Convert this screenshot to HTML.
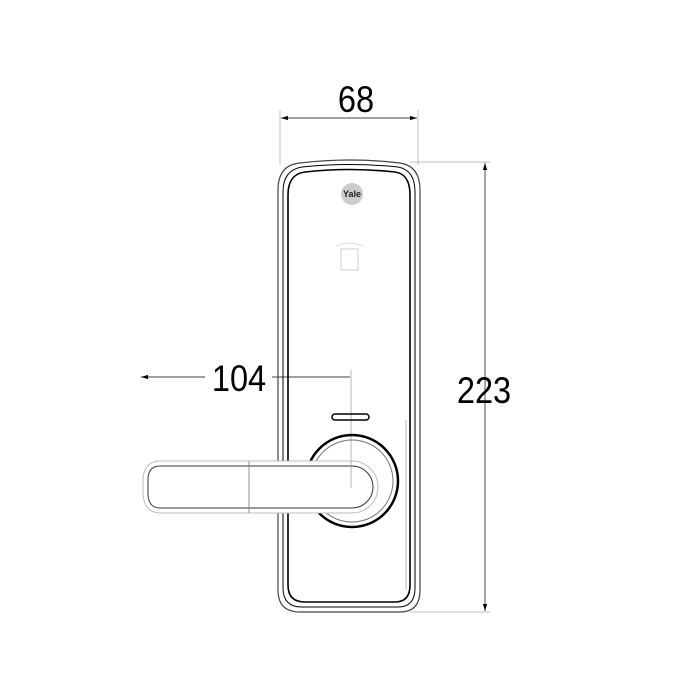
<!DOCTYPE html>
<html><head><style>body{margin:0;background:#fff}svg{display:block}</style></head><body>
<svg width="700" height="700" viewBox="0 0 700 700" xmlns="http://www.w3.org/2000/svg">
<defs><marker id="a" markerWidth="10" markerHeight="6" refX="10" refY="3" orient="auto-start-reverse"><path d="M0,0 L10,3 L0,6 z" fill="#000"/></marker></defs>
<g fill="none" stroke="#000">
<line x1="280" y1="110" x2="280" y2="165" stroke="#aaa" stroke-width="0.7"/>
<line x1="418" y1="110" x2="418" y2="165" stroke="#aaa" stroke-width="0.7"/>
<line x1="281" y1="118" x2="417" y2="118" stroke-width="0.7" marker-start="url(#a)" marker-end="url(#a)"/>
<line x1="410" y1="162" x2="490" y2="162" stroke="#aaa" stroke-width="0.7"/>
<line x1="410" y1="612" x2="490" y2="612" stroke="#aaa" stroke-width="0.7"/>
<line x1="485" y1="163" x2="485" y2="611" stroke-width="0.7" marker-start="url(#a)" marker-end="url(#a)"/>
<line x1="141" y1="377" x2="205" y2="377" stroke-width="0.7" marker-start="url(#a)"/>
<line x1="272" y1="377" x2="350" y2="377" stroke-width="0.7"/>
<line x1="351" y1="370" x2="351" y2="500" stroke="#999" stroke-width="0.7"/>
<path d="M278,590 L278,190 Q278,165 300,163 Q350,157 400,163 Q420,166 420,190 L420,590 Q420,612 400,612 L300,612 Q278,612 278,590 Z" stroke-width="1.2" stroke="#444"/>
<path d="M283,588 L283,192 Q283,170 302,167 Q350,162 398,167 Q415,170 415,192 L415,588 Q415,607 398,607 L302,607 Q283,607 283,588 Z" stroke-width="1"/>
<path d="M288,585 L288,195 Q288,174 305,172 Q350,167 395,172 Q410,174 410,195 L410,585 Q410,602 395,602 L305,602 Q288,602 288,585 Z" stroke-width="1.6"/>
<line x1="406" y1="420" x2="406" y2="590" stroke="#888" stroke-width="0.6"/>
<rect x="341" y="249" width="17" height="21" stroke="#ccc" stroke-width="1"/>
<path d="M336,246 Q350,240 363,246" stroke="#ddd"/>
<rect x="332" y="414" width="37" height="6" rx="3" stroke-width="1.5"/>
<circle cx="352" cy="481" r="46" stroke-width="2.5"/>
<circle cx="352" cy="481" r="41" stroke="#777" stroke-width="1"/>
</g>
<path d="M160,461 L352,461 A26,26 0 0 1 352,513 L160,513 Q145,513 143,495 L143,478 Q145,461 160,461 Z" fill="#fff" stroke="#bbb" stroke-width="1"/>
<path d="M160,466 L352,466 A21,21 0 0 1 352,508 L160,508 Q149,508 148,495 L148,478 Q149,466 160,466 Z" fill="none" stroke="#333" stroke-width="1"/>
<line x1="249" y1="461" x2="249" y2="513" stroke="#777" stroke-width="0.8"/>
<line x1="351" y1="461" x2="351" y2="488" stroke="#999" stroke-width="0.7"/>
<circle cx="352" cy="194" r="11" fill="#ccc"/>
<text x="352" y="197" font-family="Liberation Sans, sans-serif" font-size="9" font-weight="bold" text-anchor="middle" fill="#222">Yale</text>
<g font-family="Liberation Sans, sans-serif" font-size="37" fill="#000" text-anchor="middle">
<text x="356" y="112" transform="translate(356 0) scale(0.88 1) translate(-356 0)">68</text>
<text x="484" y="403" transform="translate(484 0) scale(0.88 1) translate(-484 0)">223</text>
<text x="239" y="391" transform="translate(239 0) scale(0.88 1) translate(-239 0)">104</text>
</g>
</svg>
</body></html>
